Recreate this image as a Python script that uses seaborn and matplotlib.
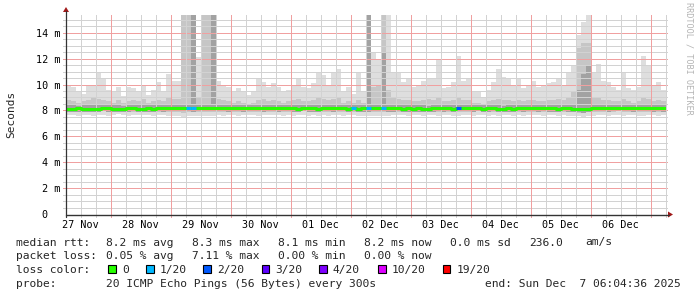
import numpy as np
import matplotlib
matplotlib.use("Agg")
import matplotlib.pyplot as plt
import seaborn as sns
from matplotlib.patches import Rectangle, Polygon
from matplotlib.lines import Line2D

# ---------------- data (2-hour bins, values in ms) ----------------
top_max = [
    10.0, 9.8, 9.4, 9.3, 10.0, 9.9, 10.9, 10.4, 9.6, 9.5, 9.8, 9.1, 9.8, 9.7, 9.5,
    9.9, 9.2, 9.6, 10.2, 9.5, 10.8, 10.3, 10.3, 15.4, 15.4, 15.4, 12.1, 15.4, 15.4, 15.4,
    10.3, 9.9, 9.8, 9.5, 9.7, 9.4, 9.2, 9.4, 10.4, 10.2, 9.8, 10.1, 9.8, 9.4, 9.6,
    9.9, 10.4, 9.8, 9.7, 10.1, 10.9, 10.7, 10.0, 10.9, 11.2, 9.5, 9.8, 9.3, 10.9, 9.4,
    15.4, 12.5, 12.0, 15.4, 15.4, 11.0, 10.9, 10.2, 10.4, 9.8, 9.9, 10.3, 10.5, 10.5, 12.0,
    9.7, 9.8, 10.2, 12.2, 10.3, 10.5, 9.5, 9.5, 9.0, 9.6, 10.2, 11.2, 10.6, 10.5, 10.0,
    10.5, 9.7, 10.0, 10.3, 9.8, 9.9, 10.1, 10.2, 10.4, 10.0, 11.0, 11.5, 13.8, 14.8, 15.4,
    11.0, 11.6, 10.3, 10.2, 9.8, 9.6, 10.9, 9.7, 9.6, 9.8, 12.2, 11.5, 9.9, 10.2, 9.6,
]
top_mid = [
    8.8, 8.7, 8.6, 8.7, 8.8, 9.0, 8.9, 8.8, 8.7, 8.6, 8.8, 8.6, 8.7, 8.8, 8.7,
    8.9, 8.6, 8.7, 8.8, 8.7, 9.0, 8.9, 8.9, 15.4, 15.4, 15.4, 9.0, 15.4, 15.4, 15.4,
    8.9, 8.8, 8.7, 8.6, 8.7, 8.6, 8.5, 8.6, 8.8, 8.9, 8.7, 8.8, 8.7, 8.6, 8.7,
    8.8, 8.9, 8.7, 8.7, 8.8, 9.0, 8.9, 8.8, 8.9, 9.0, 8.6, 8.7, 8.6, 8.8, 8.6,
    15.4, 9.8, 10.0, 15.4, 9.6, 9.0, 8.9, 8.8, 8.8, 8.7, 8.7, 8.8, 8.9, 8.8, 9.0,
    8.7, 8.7, 8.8, 9.0, 8.8, 8.8, 8.6, 8.6, 8.5, 8.7, 8.8, 8.9, 8.8, 8.8, 8.7,
    8.8, 8.7, 8.8, 8.8, 8.7, 8.7, 8.8, 8.8, 8.9, 8.8, 9.0, 9.5, 12.8, 13.2, 13.2,
    9.0, 9.0, 8.8, 8.8, 8.7, 8.7, 8.9, 8.7, 8.6, 8.7, 9.0, 8.9, 8.7, 8.8, 8.7,
]
top_dark = [
    8.38, 8.40, 8.36, 8.38, 8.40, 8.42, 8.40, 8.44, 8.40, 8.38, 8.40, 8.36, 8.38, 8.42, 8.40,
    8.38, 8.40, 8.38, 8.42, 8.40, 8.46, 8.44, 8.44, 8.50, 8.50, 15.4, 8.46, 8.50, 8.50, 15.4,
    8.42, 8.44, 8.40, 8.40, 8.42, 8.40, 8.40, 8.42, 8.44, 8.40, 8.42, 8.44, 8.40, 8.42, 8.44,
    8.40, 8.38, 8.42, 8.40, 8.40, 8.38, 8.42, 8.44, 8.40, 8.42, 8.44, 8.38, 8.42, 8.40, 8.40,
    15.4, 8.48, 8.46, 12.5, 8.46, 8.42, 8.44, 8.40, 8.40, 8.38, 8.40, 8.38, 8.36, 8.40, 8.44,
    8.40, 8.42, 8.38, 8.44, 8.44, 8.42, 8.40, 8.44, 8.38, 8.40, 8.42, 8.40, 8.36, 8.40, 8.38,
    8.42, 8.40, 8.44, 8.42, 8.40, 8.44, 8.40, 8.40, 8.38, 8.42, 8.40, 8.40, 9.60, 10.8, 11.5,
    8.44, 8.44, 8.42, 8.40, 8.44, 8.42, 8.44, 8.42, 8.40, 8.42, 8.44, 8.42, 8.40, 8.42, 8.40,
]
bot_mid = [
    7.90, 7.88, 7.86, 7.92, 7.88, 7.86, 7.90, 7.92, 7.88, 7.86, 7.92, 7.88, 7.86, 7.90, 7.88,
    7.92, 7.90, 7.86, 7.88, 7.90, 7.88, 7.86, 7.84, 7.82, 7.84, 7.86, 7.88, 7.84, 7.86, 7.88,
    7.88, 7.86, 7.90, 7.88, 7.86, 7.92, 7.90, 7.88, 7.86, 7.90, 7.88, 7.90, 7.92, 7.86, 7.88,
    7.86, 7.90, 7.92, 7.88, 7.86, 7.84, 7.90, 7.88, 7.86, 7.90, 7.88, 7.90, 7.88, 7.86, 7.86,
    7.84, 7.86, 7.86, 7.84, 7.88, 7.88, 7.90, 7.92, 7.88, 7.90, 7.92, 7.88, 7.90, 7.88, 7.86,
    7.92, 7.88, 7.86, 7.84, 7.88, 7.90, 7.88, 7.92, 7.90, 7.88, 7.90, 7.86, 7.88, 7.92, 7.88,
    7.88, 7.86, 7.90, 7.88, 7.92, 7.88, 7.90, 7.90, 7.86, 7.88, 7.86, 7.84, 7.82, 7.80, 7.84,
    7.88, 7.88, 7.90, 7.88, 7.90, 7.92, 7.88, 7.90, 7.90, 7.88, 7.86, 7.88, 7.90, 7.88, 7.90,
]
bot_min = [
    7.62, 7.65, 7.60, 7.68, 7.62, 7.58, 7.64, 7.66, 7.60, 7.62, 7.70, 7.64, 7.60, 7.66, 7.62,
    7.68, 7.64, 7.60, 7.62, 7.66, 7.60, 7.58, 7.55, 7.52, 7.55, 7.58, 7.60, 7.55, 7.58, 7.60,
    7.62, 7.60, 7.66, 7.64, 7.60, 7.68, 7.64, 7.62, 7.60, 7.66, 7.62, 7.64, 7.68, 7.60, 7.62,
    7.58, 7.64, 7.66, 7.60, 7.62, 7.58, 7.64, 7.60, 7.62, 7.66, 7.60, 7.64, 7.62, 7.60, 7.58,
    7.55, 7.60, 7.58, 7.55, 7.60, 7.62, 7.66, 7.64, 7.60, 7.62, 7.66, 7.60, 7.64, 7.62, 7.58,
    7.66, 7.62, 7.60, 7.56, 7.62, 7.64, 7.60, 7.66, 7.62, 7.60, 7.64, 7.58, 7.62, 7.66, 7.60,
    7.62, 7.60, 7.64, 7.62, 7.66, 7.60, 7.62, 7.64, 7.58, 7.62, 7.60, 7.58, 7.55, 7.52, 7.55,
    7.60, 7.62, 7.64, 7.60, 7.62, 7.66, 7.60, 7.62, 7.64, 7.60, 7.58, 7.62, 7.64, 7.60, 7.62,
]
median_ms = [
    8.14, 8.14, 8.16, 8.12, 8.14, 8.12, 8.14, 8.18, 8.16, 8.14, 8.14, 8.12, 8.16, 8.18, 8.14,
    8.12, 8.16, 8.14, 8.18, 8.16, 8.22, 8.20, 8.20, 8.18, 8.18, 8.16, 8.22, 8.22, 8.22, 8.20,
    8.18, 8.20, 8.16, 8.18, 8.20, 8.16, 8.18, 8.20, 8.18, 8.16, 8.18, 8.20, 8.16, 8.18, 8.20,
    8.16, 8.14, 8.18, 8.16, 8.16, 8.14, 8.18, 8.20, 8.16, 8.18, 8.20, 8.14, 8.18, 8.14, 8.16,
    8.16, 8.20, 8.18, 8.18, 8.16, 8.16, 8.18, 8.14, 8.16, 8.14, 8.16, 8.14, 8.12, 8.16, 8.18,
    8.16, 8.18, 8.14, 8.18, 8.20, 8.18, 8.16, 8.20, 8.14, 8.16, 8.18, 8.14, 8.12, 8.16, 8.14,
    8.18, 8.16, 8.20, 8.18, 8.16, 8.20, 8.16, 8.16, 8.14, 8.18, 8.16, 8.12, 8.10, 8.08, 8.14,
    8.20, 8.20, 8.18, 8.16, 8.20, 8.18, 8.20, 8.18, 8.16, 8.18, 8.20, 8.18, 8.16, 8.18, 8.16,
]
# lost pings (out of 20) per bin
loss = [0] * 120
for i_, v_ in [(24, 1), (25, 1), (57, 1), (60, 1), (63, 1), (78, 2)]:
    loss[i_] = v_

loss_levels = [0, 1, 2, 3, 4, 10, 19]
loss_labels = ["0", "1/20", "2/20", "3/20", "4/20", "10/20", "19/20"]
loss_colors = ["#26ff00", "#00b8ff", "#0059ff", "#5e00ff", "#7e00ff", "#dd00ff", "#ff0000"]

day_labels = ["27 Nov", "28 Nov", "29 Nov", "30 Nov", "01 Dec",
              "02 Dec", "03 Dec", "04 Dec", "05 Dec", "06 Dec"]
y_ticks = [0, 2, 4, 6, 8, 10, 12, 14]
y_tick_labels = ["0  ", "2 m", "4 m", "6 m", "8 m", "10 m", "12 m", "14 m"]

# time axis: hours since 27 Nov 00:00; graph spans 240 h ending Dec 7 06:04:36
t_start = 6 + 4 / 60 + 36 / 3600
bin_h = 2.0
n = len(median_ms)
t_edges = t_start + bin_h * np.arange(n + 1)

# ---------------- figure ----------------
sns.set_theme(style="white")
plt.rcParams["font.family"] = ["DejaVu Sans Mono", "DejaVu Sans"]

W, H = 697, 297
def fx(px): return px / W
def fy(py): return 1 - py / H

fig = plt.figure(figsize=(W / 100, H / 100), dpi=100, facecolor="white")
ax = fig.add_axes([fx(66), fy(214), 600 / W, 199 / H])
ax.set_facecolor("white")
ax.set_xlim(t_start, t_start + 240)
ax.set_ylim(0, 199 / 12.95)
for s in ax.spines.values():
    s.set_visible(False)

def ext(a):
    a = np.asarray(a, float)
    return np.append(a, a[-1])

med = np.asarray(median_ms)
core = 0.25
ax.fill_between(t_edges, ext(bot_min), ext(top_max), step="post", color="#dedede", lw=0, zorder=1)
ax.fill_between(t_edges, ext(bot_mid), ext(top_mid), step="post", color="#c6c6c6", lw=0, zorder=2)
ax.fill_between(t_edges, ext(med - core), ext(top_dark), step="post", color="#a2a2a2", lw=0, zorder=3)

# grid (dotted, drawn over the smoke, like rrdtool)
dots = (0, (1, 1))
gkw = dict(lw=0.72, ls=dots, zorder=4, clip_on=False, antialiased=False)
minor_col = "#d2d2d2"
major_col = "#f0a0a0"
minor_y = [v for v in np.arange(0.5, 15.3, 0.5) if v not in y_ticks]
for y in minor_y:
    ax.axhline(y, xmin=-3 / 600, xmax=1 + 2 / 600, color=minor_col, **gkw)
for y in y_ticks[1:]:
    ax.axhline(y, xmin=-3 / 600, xmax=1 + 2 / 600, color=major_col, **gkw)
for h in range(12, 247, 6):
    if h > t_start + 240:
        break
    col = major_col if h % 24 == 0 else minor_col
    ax.axvline(h, ymin=-3 / 199, ymax=1 + 1 / 199, color=col, **gkw)

# median line coloured by loss
sns.lineplot(x=t_edges, y=ext(med), drawstyle="steps-post", color=loss_colors[0],
             lw=2.2, ax=ax, zorder=5, legend=False)
for i in range(n):
    if loss[i] > 0:
        c = loss_colors[loss_levels.index(loss[i])]
        ax.hlines(med[i], t_edges[i], t_edges[i + 1], color=c, lw=2.2, zorder=6)

# ticks
ax.set_xticks([12 + 24 * k for k in range(len(day_labels))])
ax.set_xticklabels(day_labels, fontsize=7.3)
ax.set_yticks(y_ticks)
ax.set_yticklabels(y_tick_labels, fontsize=7.3)
ax.tick_params(axis="x", length=0, pad=4.6, colors="black")
ax.tick_params(axis="y", length=0, pad=4.3, colors="black")
ax.set_xlabel("")
ax.set_ylabel("")

# axes lines and arrows
axis_col = "#333333"
arrow_col = "#a01818"
fig.add_artist(Line2D([fx(66), fx(669)], [fy(214.5), fy(214.5)], transform=fig.transFigure, color=axis_col, lw=1.0))
fig.add_artist(Line2D([fx(66), fx(66)], [fy(217), fy(11)], transform=fig.transFigure, color=axis_col, lw=0.9))
fig.add_artist(Polygon([[fx(668), fy(211.5)], [fx(673), fy(214.5)], [fx(668), fy(217.5)]],
                       closed=True, transform=fig.transFigure, color=arrow_col, lw=0))
fig.add_artist(Polygon([[fx(63), fy(12)], [fx(66), fy(7)], [fx(69), fy(12)]],
                       closed=True, transform=fig.transFigure, color=arrow_col, lw=0))

# side texts
fig.text(fx(11), fy(114.5), "Seconds", rotation=90, ha="center", va="center", fontsize=8)
fig.text(fx(688.5), fy(58.5), "RRDTOOL / TOBI OETIKER", rotation=270, ha="center",
         va="center", fontsize=6.1, color="#b4b4b4")

# legend block
lf = 8.1
base = [245.5, 259.2, 272.9, 286.6]
line1 = [(16, "median rtt:"), (106.5, "8.2 ms avg"), (192.5, "8.3 ms max"), (278.5, "8.1 ms min"),
         (364.3, "8.2 ms now"), (450.3, "0.0 ms sd"), (529.3, "236.0"), (585.3, "am/s")]
line2 = [(16, "packet loss:"), (106.5, "0.05 % avg"), (192.5, "7.11 % max"),
         (278.5, "0.00 % min"), (364.3, "0.00 % now")]
for (x, s) in line1:
    fig.text(fx(x), fy(base[0]), s, ha="left", va="baseline", fontsize=lf)
for (x, s) in line2:
    fig.text(fx(x), fy(base[1]), s, ha="left", va="baseline", fontsize=lf)
fig.text(fx(16), fy(base[2]), "loss color:", ha="left", va="baseline", fontsize=lf)
box_x = [108.3, 146.0, 203.3, 261.7, 319.0, 378.3, 442.7]
for bx, lab, c in zip(box_x, loss_labels, loss_colors):
    fig.add_artist(Rectangle((fx(bx), fy(273.3)), 7.5 / W, 8 / H, transform=fig.transFigure,
                             facecolor=c, edgecolor="black", lw=0.8))
    fig.text(fx(bx + 13.8), fy(base[2]), lab, ha="left", va="baseline", fontsize=lf)
fig.text(fx(16), fy(base[3]), "probe:", ha="left", va="baseline", fontsize=lf)
fig.text(fx(106.5), fy(base[3]), "20 ICMP Echo Pings (56 Bytes) every 300s", ha="left",
         va="baseline", fontsize=lf)
fig.text(fx(680.5), fy(base[3]), "end: Sun Dec  7 06:04:36 2025", ha="right",
         va="baseline", fontsize=lf)

fig.savefig("out.png", dpi=100, facecolor="white")
